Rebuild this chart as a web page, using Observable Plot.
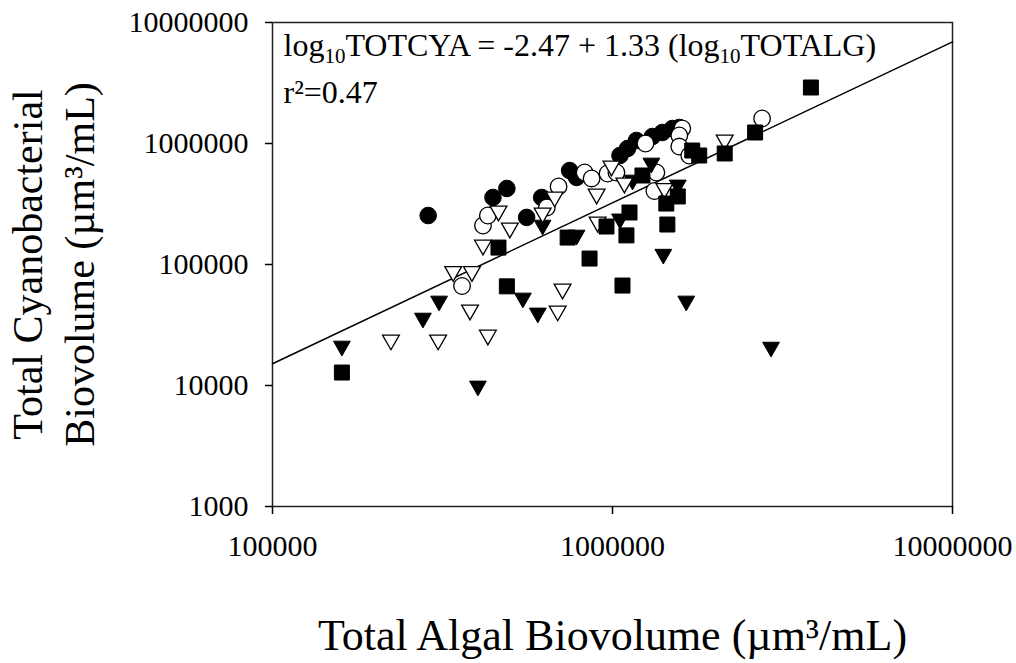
<!DOCTYPE html>
<html><head><meta charset="utf-8">
<script src="https://cdn.jsdelivr.net/npm/d3@7"></script>
<script src="https://cdn.jsdelivr.net/npm/@observablehq/plot@0.6"></script>
<style>body{margin:0;background:#fff} #chart svg{display:block}</style>
</head><body><div id="chart"></div>
<script>
// Series: filled circles
const filledCircleX = [287000, 445000, 489000, 559000, 619000, 748000, 784000, 1052000, 1107000, 1176000, 1310000, 1402000, 1500000, 1572000];
const filledCircleY = [254000, 358000, 425000, 245000, 358000, 598000, 524000, 796000, 909000, 1059000, 1142000, 1233000, 1330000, 1356000];
// Series: open circles
const openCircleX = [416000, 430000, 361000, 641000, 694000, 828000, 868000, 967000, 1027000, 1250000, 1346000, 1328000, 1604000, 1572000, 1572000, 1682000, 2754000];
const openCircleY = [210000, 254000, 66400, 296000, 441000, 576000, 514000, 565000, 576000, 1000000, 576000, 405000, 1330000, 1165000, 944000, 796000, 1609000];
// Series: filled down triangles
const filledTriX = [160000, 277000, 309000, 402000, 545000, 603000, 623000, 784000, 1052000, 1145000, 1301000, 1411000, 1556000, 1648000, 2926000];
const filledTriY = [20200, 34400, 47600, 9450, 50400, 37900, 202000, 167000, 227000, 476000, 658000, 116000, 433000, 47600, 19800];
// Series: open down triangles
const openTriX = [223000, 307000, 340000, 386000, 381000, 430000, 416000, 462000, 499000, 623000, 676000, 898000, 993000, 1084000, 904000, 1421000, 2138000, 713000, 690000];
const openTriY = [22700, 22700, 83400, 83400, 40100, 24900, 138000, 264000, 191000, 254000, 345000, 365000, 621000, 450000, 214000, 405000, 1019000, 59800, 39400];
// Series: filled squares
const squareX = [160000, 462000, 489000, 738000, 856000, 960000, 1099000, 1122000, 1070000, 1225000, 1440000, 1450000, 1556000, 1716000, 1799000, 2138000, 2627000, 3833000];
const squareY = [12800, 138000, 66000, 167000, 112000, 206000, 174000, 269000, 67000, 544000, 319000, 214000, 365000, 875000, 796000, 827000, 1233000, 2902000];
// Regression line endpoints
const fitX = [100000, 10000000];
const fitY = [15136, 6918000];
// Ticks and labels
const xTicks = [100000, 1000000, 10000000];
const yTicks = [1000, 10000, 100000, 1000000, 10000000];
const xTitle = "Total Algal Biovolume (µm³/mL)";
const yTitle1 = "Total Cyanobacterial";
const yTitle2 = "Biovolume (µm³/mL)";
const eqText = "log10TOTCYA = -2.47 + 1.33 (log10TOTALG)";
const r2Text = "r²=0.47";

const pts = (xs, ys) => xs.map((x, i) => ({x, y: ys[i]}));
const fit = pts(fitX, fitY);

const downTriangle = {draw(ctx, size) {const r = Math.sqrt(size / Math.PI); const w = r * 1.05, h = r * 0.92; ctx.moveTo(-w, -h); ctx.lineTo(w, -h); ctx.lineTo(0, h); ctx.closePath();}};
const squareSym = {draw(ctx, size) {const r = Math.sqrt(size / Math.PI); ctx.rect(-r, -r, 2 * r, 2 * r);}};

const font = "'Liberation Serif', 'Times New Roman', serif";

const chart = Plot.plot({
  width: 1016, height: 663,
  marginLeft: 272, marginRight: 64, marginTop: 22, marginBottom: 157,
  style: {fontFamily: font, fontSize: "30px", color: "black", background: "white"},
  x: {type: "log", domain: [1e5, 1e7]},
  y: {type: "log", domain: [1e3, 1e7]},
  marks: [
    Plot.frame({stroke: "#222", strokeWidth: 1.5}),
    Plot.axisX({ticks: xTicks, tickFormat: "d", tickSize: 8, tickPadding: 20, label: null, fontSize: 30, strokeWidth: 1.5}),
    Plot.axisY({ticks: yTicks, tickFormat: "d", tickSize: 7, tickPadding: 17, label: null, fontSize: 30, strokeWidth: 1.5}),
    Plot.line(fit, {x: "x", y: "y", stroke: "black", strokeWidth: 1.5}),
    Plot.dot(pts(filledCircleX, filledCircleY), {x: "x", y: "y", r: 8.3, fill: "black", stroke: "black", strokeWidth: 1}),
    Plot.dot(pts(openCircleX, openCircleY), {x: "x", y: "y", r: 8.3, fill: "white", stroke: "black", strokeWidth: 1.3}),
    Plot.dot(pts(filledTriX, filledTriY), {x: "x", y: "y", r: 8, symbol: downTriangle, fill: "black", stroke: "black", strokeWidth: 1}),
    Plot.dot(pts(openTriX, openTriY), {x: "x", y: "y", r: 8, symbol: downTriangle, fill: "white", stroke: "black", strokeWidth: 1.3}),
    Plot.dot(pts(squareX, squareY), {x: "x", y: "y", r: 7.5, symbol: squareSym, fill: "black", stroke: "black", strokeWidth: 1}),
    Plot.text([eqText], {frameAnchor: "top-left", textAnchor: "start", lineAnchor: "top", dx: 11, dy: 11, fontSize: 32, fill: "black"}),
    Plot.text([r2Text], {frameAnchor: "top-left", textAnchor: "start", lineAnchor: "top", dx: 11, dy: 58, fontSize: 32, fill: "black"}),
    Plot.text([xTitle], {frameAnchor: "bottom", textAnchor: "middle", lineAnchor: "middle", dy: 129, fontSize: 44, fill: "black"}),
    Plot.text([yTitle1], {frameAnchor: "left", textAnchor: "middle", lineAnchor: "middle", rotate: -90, dx: -244, fontSize: 42, fill: "black"}),
    Plot.text([yTitle2], {frameAnchor: "left", textAnchor: "middle", lineAnchor: "middle", rotate: -90, dx: -192, fontSize: 42, fill: "black"})
  ]
});
document.getElementById("chart").appendChild(chart);

// subscripts in the equation
chart.querySelectorAll("text").forEach(t => {
  if (t.textContent === eqText) {
    const parts = eqText.split("10");
    t.textContent = "";
    const ns = "http://www.w3.org/2000/svg";
    const add = (s, dy, fs) => {const ts = document.createElementNS(ns, "tspan"); ts.textContent = s; if (dy) ts.setAttribute("dy", dy); if (fs) ts.setAttribute("font-size", fs); t.appendChild(ts);};
    add(parts[0]);
    add("10", 7, 21);
    add(parts[1], -7);
    add("10", 7, 21);
    add(parts[2], -7);
  }
});
</script></body></html>
